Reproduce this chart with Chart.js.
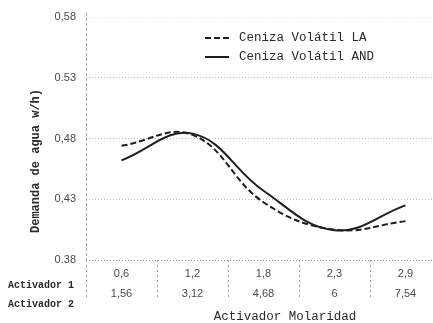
<!DOCTYPE html>
<html>
<head>
<meta charset="utf-8">
<script src="https://cdn.jsdelivr.net/npm/chart.js"></script>
<style>
  body { margin: 0; background: #fff; overflow: hidden; }
  #wrap { width: 445px; height: 323px; }
</style>
</head>
<body>
<div id="wrap"><canvas id="chartDemanda" width="445" height="323"></canvas></div>
<script>
    // datos
    const activador1 = ['0,6', '1,2', '1,8', '2,3', '2,9'];
    const activador2 = ['1,56', '3,12', '4,68', '6', '7,54'];
    const cenizaLA = [0.474, 0.483, 0.4275, 0.405, 0.412];
    const cenizaAND = [0.462, 0.484, 0.437, 0.4045, 0.425];
    const yTickLabels = ['0.38', '0,43', '0,48', '0.53', '0,58'];
    const filas = ['Activador 1', 'Activador 2'];
    const tituloY = 'Demanda de agua w/h)';
    const tituloX = 'Activador Molaridad';

    const mono = '"Liberation Mono", "Courier New", monospace';

    // textos extra: titulos, filas de la tabla, eje y y leyenda
    const extras = {
        id: 'extras',
        afterDraw(chart) {
            const ctx = chart.ctx;
            const area = chart.chartArea;
            ctx.save();

            // eje vertical punteado
            ctx.save();
            ctx.strokeStyle = '#a8a8a8';
            ctx.lineWidth = 1;
            ctx.setLineDash([3, 2]);
            ctx.beginPath();
            ctx.moveTo(area.left + 0.5, area.top - 4);
            ctx.lineTo(area.left + 0.5, area.bottom);
            ctx.stroke();
            ctx.restore();

            ctx.fillStyle = '#2a2a2a';
            ctx.textBaseline = 'middle';

            ctx.font = 'bold 12px ' + mono;
            ctx.save();
            ctx.translate(36, 161);
            ctx.rotate(-Math.PI / 2);
            ctx.textAlign = 'center';
            ctx.fillText(tituloY, 0, 0);
            ctx.restore();

            ctx.font = '12.5px ' + mono;
            ctx.textAlign = 'center';
            ctx.fillText(tituloX, 285, 317);

            ctx.font = 'bold 10px ' + mono;
            ctx.textAlign = 'left';
            ctx.fillText(filas[0], 8, 285);
            ctx.fillText(filas[1], 8, 304);

            // leyenda
            ctx.font = '12.5px ' + mono;
            chart.data.datasets.forEach((ds, i) => {
                const y = area.top + 21 + i * 19;
                ctx.save();
                ctx.strokeStyle = ds.borderColor;
                ctx.lineWidth = ds.borderWidth;
                ctx.setLineDash(ds.borderDash || []);
                ctx.beginPath();
                ctx.moveTo(205, y);
                ctx.lineTo(229, y);
                ctx.stroke();
                ctx.restore();
                ctx.fillText(ds.label, 239, y);
            });
            ctx.restore();
        }
    };

    let ctx = document.getElementById('chartDemanda').getContext('2d');
    let myChart = new Chart(ctx, {
        type: 'line',
        data: {
            labels: activador1.map((a, i) => [a, activador2[i]]),
            datasets: [{
                label: 'Ceniza Volátil LA',
                data: cenizaLA,
                borderColor: '#1e1e1e',
                borderWidth: 2,
                borderDash: [6, 3],
                pointRadius: 0,
                tension: 0.4,
                fill: false
            }, {
                label: 'Ceniza Volátil AND',
                data: cenizaAND,
                borderColor: '#1e1e1e',
                borderWidth: 2,
                pointRadius: 0,
                tension: 0.4,
                fill: false
            }]
        },
        options: {
            responsive: false,
            animation: false,
            layout: { padding: { top: 17, right: 4, left: 0, bottom: 0 } },
            plugins: {
                legend: { display: false },
                tooltip: { enabled: false }
            },
            scales: {
                x: {
                    offset: true,
                    afterFit: s => { s.height = 63; },
                    border: { display: false },
                    grid: {
                        drawOnChartArea: false,
                        drawTicks: true,
                        tickLength: 40,
                        tickColor: '#a0a0a0',
                        tickBorderDash: [2, 3],
                        offset: true
                    },
                    ticks: {
                        color: '#4a4a4a',
                        padding: -36,
                        maxRotation: 0,
                        autoSkip: false,
                        font: { family: '"Liberation Sans", Arial, sans-serif', size: 11, lineHeight: 1.8 }
                    }
                },
                y: {
                    min: 0.38,
                    max: 0.58,
                    afterFit: s => { s.width = 86; },
                    border: { display: false, dash: [1, 2] },
                    grid: {
                        drawTicks: false,
                        color: c => c.index === 0 ? '#9a9a9a' : (c.index === 4 ? '#e2e2e2' : '#bdbdbd')
                    },
                    ticks: {
                        stepSize: 0.05,
                        padding: 10,
                        color: '#4a4a4a',
                        font: { family: '"Liberation Sans", Arial, sans-serif', size: 11 },
                        callback: (v, i) => yTickLabels[i]
                    }
                }
            }
        },
        plugins: [extras]
    });
</script>
</body>
</html>
